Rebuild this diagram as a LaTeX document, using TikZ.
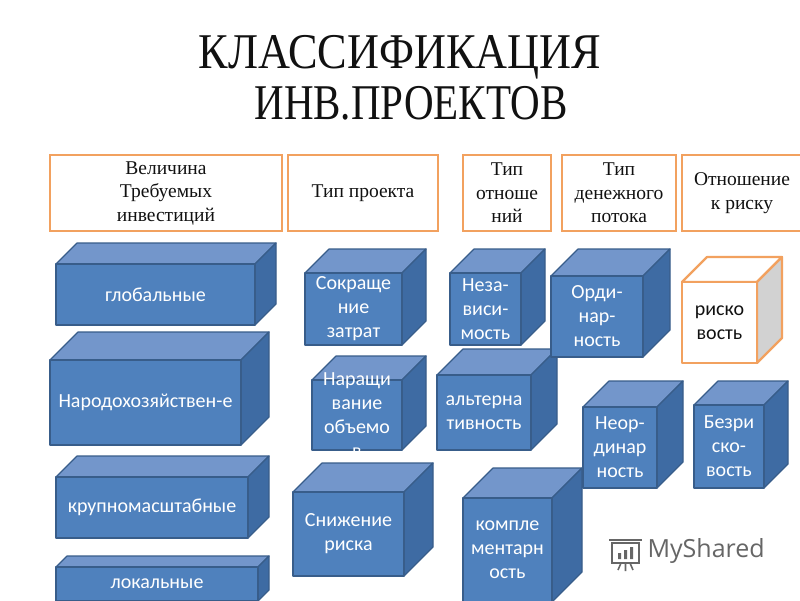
\documentclass[tikz,border=0pt]{standalone}
\usepackage{fontspec}
\setmainfont{Liberation Serif}
\newfontfamily\labelfont{Carlito}
\newfontfamily\brandfont{Open Sans}
\newfontfamily\titlefont[FakeStretch=0.885]{Liberation Serif}
\newfontfamily\subtitlefont[FakeStretch=0.82]{Liberation Serif}
\usepackage{xcolor}
\usepackage{tikz}
\definecolor{bluefill}{HTML}{4F81BD}
\definecolor{bluelight}{HTML}{7396CB}
\definecolor{bluedark}{HTML}{3E6BA3}
\definecolor{blueedge}{HTML}{385D8A}
\definecolor{frame}{HTML}{F2A15F}
\definecolor{shade}{HTML}{D2D2D2}
\definecolor{ink}{HTML}{111111}
\definecolor{brand}{HTML}{666666}
\tikzset{
  head/.style={draw=frame, line width=2.4pt, fill=white, inner sep=0pt, align=center,
    text=ink, font=\fontsize{19.5}{23.5}\selectfont},
  bluetop/.style={fill=bluelight, draw=blueedge, line width=1.2pt, line join=round},
  blueside/.style={fill=bluedark, draw=blueedge, line width=1.2pt, line join=round},
  bluefront/.style={fill=bluefill, draw=blueedge, line width=1.2pt, line join=round},
  bluetxt/.style={text=white, align=center, font=\labelfont\fontsize{20}{24}\selectfont},
  whitetop/.style={fill=white, draw=frame, line width=2.2pt, line join=round},
  whiteside/.style={fill=shade, draw=frame, line width=2.2pt, line join=round},
  whitefront/.style={fill=white, draw=frame, line width=2.2pt, line join=round},
  whitetxt/.style={text=ink, align=center, font=\labelfont\fontsize{20}{24}\selectfont},
  titletxt/.style={text=ink, anchor=base, inner sep=0pt},
  brandtxt/.style={text=brand, font=\brandfont\fontsize{25}{28}\selectfont},
  brandline/.style={draw=brand, line width=1.6pt},
}
% #1 kind, #2 name, #3-#6 front face corners, #7 depth, #8 label
\newcommand{\blockcube}[8][blue]{%
  \draw[#1top] (#3,#4) -- (#3+#7,#4-#7) -- (#5+#7,#4-#7) -- (#5,#4) -- cycle;
  \draw[#1side] (#5,#4) -- (#5+#7,#4-#7) -- (#5+#7,#6-#7) -- (#5,#6) -- cycle;
  \draw[#1front] (#3,#4) rectangle (#5,#6);
  \node[#1txt] (#2) at ({(#3+#5)/2},{(#4+#6)/2}) {#8};
}
\begin{document}
\begin{tikzpicture}[x=1pt,y=-1pt]
  \useasboundingbox[fill=white] (0,0) rectangle (800,600);
  \node[titletxt, font=\titlefont\fontsize{50}{52}\selectfont] (title) at (400,68) {КЛАССИФИКАЦИЯ};
  \node[titletxt, font=\subtitlefont\fontsize{50}{52}\selectfont] (subtitle) at (411,119) {ИНВ.ПРОЕКТОВ};
  % column heads
  \node[head, minimum width=232pt, minimum height=76pt] (size) at (166,193) {Величина\\Требуемых\\инвестиций};
  \node[head, minimum width=150pt, minimum height=76pt] (kind) at (363,193) {Тип проекта};
  \node[head, minimum width=88pt, minimum height=76pt] (rel) at (507,193) {Тип\\отноше\\ний};
  \node[head, minimum width=114pt, minimum height=76pt] (flow) at (619,193) {Тип\\денежного\\потока};
  \node[head, minimum width=120pt, minimum height=76pt] (risk) at (742,193) {Отношение\\к риску};
  % size of investment
  \blockcube{global}{56}{264}{255}{325}{21}{глобальные}
  \blockcube{national}{50}{360}{241}{445}{28}{Народохозяйствен-е}
  \blockcube{large}{56}{477}{248}{538}{21}{крупномасштабные}
  \blockcube{local}{56}{567}{258}{601}{11}{локальные}
  % project type
  \blockcube{cost}{305}{273}{402}{345}{24}{Сокраще\\ние\\затрат}
  \begin{scope}
    \clip (300,340) rectangle (440,453);
    \blockcube{volume}{312}{380}{402}{450}{24}{Наращи\\вание\\объемо\\в}
  \end{scope}
  \blockcube{lowrisk}{293}{492}{404}{576}{29}{Снижение\\риска}
  % relations
  \blockcube{indep}{450}{273}{521}{345}{24}{Неза-\\виси-\\мость}
  \blockcube{alter}{437}{375}{531}{450}{26}{альтерна\\тивность}
  % cash flow
  \blockcube{ordinary}{551}{276}{643}{357}{27}{Орди-\\нар-\\ность}
  \blockcube{unusual}{583}{407}{657}{488}{26}{Неор-\\динар\\ность}
  \blockcube{compl}{463}{498}{552}{602}{30}{компле\\ментарн\\ость}
  % attitude to risk
  \blockcube[white]{risky}{682}{282}{757}{363}{25}{риско\\вость}
  \blockcube{riskfree}{694}{405}{764}{488}{24}{Безри\\ско-\\вость}
  % watermark
  \draw[brandline] (612,543) rectangle (639,563);
  \draw[brandline] (609,540) -- (642,540);
  \draw[brandline] (618,570) -- (621,563) (633,570) -- (630,563) (625.5,571) -- (625.5,563);
  \fill[brand] (618,553) rectangle (621,559) (624,550) rectangle (627,559) (630,547) rectangle (633,559);
  \node[brandtxt, anchor=west] (site) at (644,551) {MyShared};
\end{tikzpicture}
\end{document}
